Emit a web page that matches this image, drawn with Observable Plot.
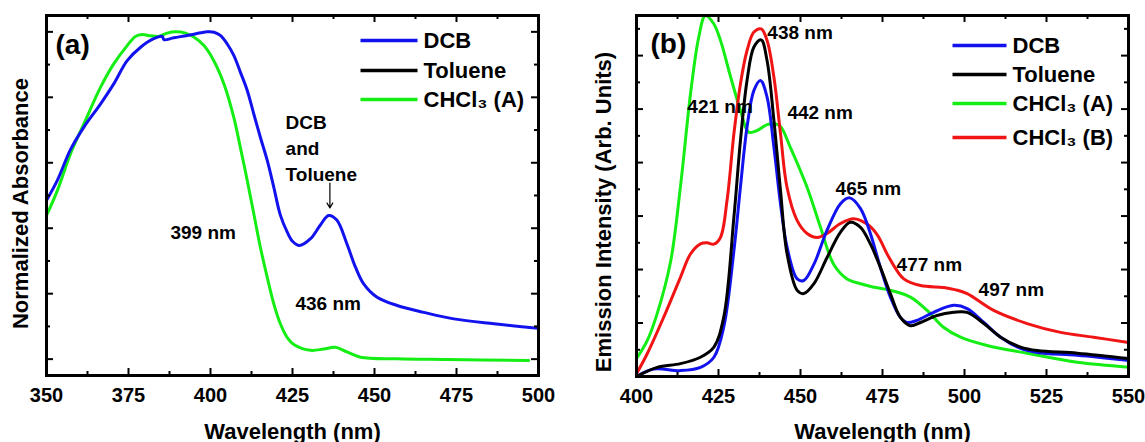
<!DOCTYPE html>
<html>
<head>
<meta charset="utf-8">
<script src="https://cdn.jsdelivr.net/npm/d3@7"></script>
<script src="https://cdn.jsdelivr.net/npm/@observablehq/plot@0.6"></script>
<style>
  html, body { margin: 0; padding: 0; background: #fff; }
  #wrap { position: relative; width: 1145px; height: 442px; overflow: hidden; }
  #wrap > svg { position: absolute; top: 0; }
</style>
</head>
<body>
<div id="wrap"></div>
<script>
const FONT = "'Liberation Sans', Arial, Helvetica, sans-serif";

// (a) Absorbance spectra: [wavelength (nm), normalized absorbance]
const absDCB = [
  [350, 0.485], [353.3, 0.546], [357.3, 0.64], [361.4, 0.709], [366.5, 0.78],
  [370.5, 0.841], [374.6, 0.912], [378.7, 0.953], [382.7, 0.979], [385.3, 0.986],
  [385.8, 0.976], [388.8, 0.982], [392.9, 0.989], [397, 0.997], [399, 1.0],
  [401.1, 0.999], [403, 0.989], [405.1, 0.963], [407.1, 0.928], [409.1, 0.877],
  [411.2, 0.821], [413.2, 0.749], [415.2, 0.678], [417.3, 0.607], [419.3, 0.525],
  [421.3, 0.44], [423.4, 0.388], [425, 0.36], [427.1, 0.347], [430.5, 0.368],
  [433.5, 0.41], [436, 0.439], [438.5, 0.425], [441.6, 0.352], [444.2, 0.281],
  [446.7, 0.23], [450.8, 0.189], [456.9, 0.164], [465, 0.143], [474.2, 0.123],
  [486.4, 0.108], [500, 0.094]
];
const absCHCl3A = [
  [350, 0.439], [353.3, 0.515], [357.3, 0.627], [361.4, 0.719], [366.5, 0.831],
  [370.5, 0.902], [374.6, 0.958], [377.1, 0.986], [379.2, 0.992], [381.7, 0.988],
  [384.2, 0.986], [386.8, 0.996], [389.3, 1.0], [392.4, 0.996], [394.9, 0.984],
  [398, 0.958], [401, 0.912], [404.1, 0.841], [407.1, 0.739], [409.1, 0.647],
  [411.2, 0.546], [413.2, 0.444], [415.2, 0.342], [417.3, 0.25], [419.3, 0.169],
  [421.3, 0.108], [423.4, 0.066], [425.4, 0.045], [430.5, 0.027], [434.5, 0.031],
  [438.1, 0.036], [441.6, 0.022], [445.7, 0.006], [456.9, 0.001], [472.2, -0.001],
  [497, -0.004]
];

// (b) Emission spectra: [wavelength (nm), intensity (arb. units)]
const emDCB = [
  [400, 0.0], [405.3, 0.028], [413.4, 0.022], [419.5, 0.034], [423.6, 0.072],
  [426.6, 0.185], [429.7, 0.471], [431.7, 0.71], [433.7, 0.933], [435.8, 1.07],
  [437.8, 1.107], [439.8, 1.045], [441.9, 0.857], [443.9, 0.646], [445.9, 0.484],
  [449, 0.365], [451, 0.359], [454.1, 0.42], [458.1, 0.547], [462.2, 0.646],
  [465, 0.668], [468.3, 0.628], [471.3, 0.535], [474.3, 0.41], [477.4, 0.297],
  [480.4, 0.222], [482.5, 0.202], [485.5, 0.21], [490.6, 0.24], [496.7, 0.266],
  [500.8, 0.254], [505.9, 0.202], [511, 0.147], [517.1, 0.105], [522.2, 0.09],
  [534.4, 0.079], [550, 0.06]
];
const emToluene = [
  [400, 0.0], [406.3, 0.034], [413.4, 0.048], [419.5, 0.072], [423.6, 0.11],
  [426.6, 0.222], [429.7, 0.596], [431.7, 0.883], [433.7, 1.107], [435.8, 1.232],
  [438, 1.259], [439.8, 1.182], [441.9, 0.957], [443.9, 0.696], [445.9, 0.459],
  [449, 0.322], [451, 0.31], [454.1, 0.347], [458.1, 0.445], [462.2, 0.54],
  [465.2, 0.577], [468.3, 0.558], [471.3, 0.496], [474.3, 0.41], [477.4, 0.31],
  [480.4, 0.222], [483.5, 0.19], [486.6, 0.202], [491.6, 0.228], [496.7, 0.24],
  [500.8, 0.24], [505.9, 0.198], [511, 0.147], [517.1, 0.11], [522.2, 0.097],
  [534.4, 0.087], [550, 0.067]
];
const emCHCl3A = [
  [400, 0.067], [403.3, 0.135], [406.3, 0.235], [410.4, 0.43], [413.4, 0.71],
  [416.5, 1.06], [419, 1.27], [421, 1.35], [423.5, 1.32], [425.6, 1.257],
  [428.7, 1.12], [431.7, 0.995], [434.2, 0.914], [436.8, 0.92], [439.8, 0.942],
  [442, 0.945], [443.9, 0.935], [446.9, 0.857], [452, 0.708], [456.1, 0.558],
  [460.1, 0.42], [464.2, 0.365], [468.3, 0.347], [472, 0.335], [477.4, 0.322],
  [483.5, 0.297], [488.6, 0.247], [493.6, 0.184], [498.8, 0.147], [506.9, 0.116],
  [519.1, 0.087], [534.4, 0.053], [550, 0.035]
];
const emCHCl3B = [
  [400, 0.01], [403.3, 0.086], [408.3, 0.222], [413.4, 0.371], [416.5, 0.459],
  [419.5, 0.496], [421.5, 0.5], [423.6, 0.495], [425.6, 0.52], [427.6, 0.658],
  [429.7, 0.908], [431.7, 1.095], [433.7, 1.219], [435.8, 1.288], [438, 1.30],
  [439.8, 1.257], [441.9, 1.119], [443.9, 0.908], [445.9, 0.707], [449, 0.583],
  [452, 0.535], [455.1, 0.52], [458.1, 0.535], [462.2, 0.572], [466.2, 0.59],
  [470.3, 0.57], [473.4, 0.53], [477, 0.445], [481.5, 0.365], [486.6, 0.34],
  [493.7, 0.333], [497, 0.325], [500.8, 0.31], [508.9, 0.247], [519.1, 0.198],
  [529.3, 0.165], [539.3, 0.147], [550, 0.127]
];

// Axis tick values
const xTicksA = [350, 375, 400, 425, 450, 475, 500];
const xTicksB = [400, 425, 450, 475, 500, 525, 550];
const yTicksA = [0, 0.1, 0.2, 0.3, 0.4, 0.5, 0.6, 0.7, 0.8, 0.9, 1.0];
const yTicksB = [0, 0.1, 0.2, 0.3, 0.4, 0.5, 0.6, 0.7, 0.8, 0.9, 1.0, 1.1, 1.2, 1.3];

// Series names
const legendA = ["DCB", "Toluene", "CHCl₃ (A)"];
const legendB = ["DCB", "Toluene", "CHCl₃ (A)", "CHCl₃ (B)"];

// Peak annotations: label text with its anchor in data coordinates
const notesA = [
  {text: "399 nm", wl: 387.8, v: 0.387},
  {text: "436 nm", wl: 425.9, v: 0.17}
];
const notesB = [
  {text: "438 nm", wl: 439.9, v: 1.286},
  {text: "421 nm", wl: 415.5, v: 1.01},
  {text: "442 nm", wl: 446.0, v: 0.984},
  {text: "465 nm", wl: 460.7, v: 0.703},
  {text: "477 nm", wl: 479.3, v: 0.419},
  {text: "497 nm", wl: 504.3, v: 0.325}
];

const COLORS = {
  "DCB": "#1212ee",
  "Toluene": "#000000",
  "CHCl₃ (A)": "#14ee14",
  "CHCl₃ (B)": "#f01414"
};

// Inward ticks on all four sides of the frame
function frameTicks(xMajor, yTicks, frameW, frameH) {
  const xMinor = d3.pairs(xMajor).map(([a, b]) => (a + b) / 2);
  const yMajor = yTicks.filter((d, i) => i % 2 === 0);
  const yMinor = yTicks.filter((d, i) => i % 2 === 1);
  const marks = [];
  for (const [vals, len] of [[xMajor, 7], [xMinor, 4]]) {
    marks.push(Plot.tickX(vals, {x: d => d, insetTop: frameH - len, strokeWidth: 2}));
    marks.push(Plot.tickX(vals, {x: d => d, insetBottom: frameH - len, strokeWidth: 2}));
  }
  for (const [vals, len] of [[yMajor, 7], [yMinor, 4]]) {
    marks.push(Plot.tickY(vals, {y: d => d, insetRight: frameW - len, strokeWidth: 2}));
    marks.push(Plot.tickY(vals, {y: d => d, insetLeft: frameW - len, strokeWidth: 2}));
  }
  return marks;
}

// Short horizontal stroke used as the legend swatch
const swatch = half => ({draw(ctx) { ctx.moveTo(-half, 0); ctx.lineTo(half, 0); }});

function legendMarks(names, {cx, half, tx, rows}) {
  const marks = [];
  names.forEach((name, i) => {
    marks.push(Plot.dot([name], {
      frameAnchor: "top-left", dx: cx, dy: rows[i],
      symbol: swatch(half), fill: "none", stroke: COLORS[name], strokeWidth: 3.5
    }));
    marks.push(Plot.text([name], {
      frameAnchor: "top-left", dx: tx, dy: rows[i], text: d => d,
      textAnchor: "start", lineAnchor: "middle", fontSize: 22, fontWeight: "bold", fill: "black"
    }));
  });
  return marks;
}

function spectrum(data, name) {
  return Plot.line(data, {
    x: d => d[0], y: d => d[1], stroke: COLORS[name], strokeWidth: 3,
    curve: "catmull-rom"
  });
}

const common = {
  height: 442,
  marginTop: 15,
  style: {fontFamily: FONT, fontWeight: "bold", color: "black", background: "white", overflow: "visible"}
};

// Panel (a): absorbance
const W_A = 580, ML_A = 46, MR_A = 42, MB_A = 67;
const plotA = Plot.plot({
  ...common,
  width: W_A,
  marginLeft: ML_A, marginRight: MR_A, marginBottom: MB_A,
  x: {domain: [350, 500], label: null},
  y: {domain: [-0.05, 1.05], axis: null},
  marks: [
    spectrum(absCHCl3A, "CHCl₃ (A)"),
    spectrum(absDCB, "DCB"),
    Plot.arrow([0], {x1: 436.4, y1: 0.538, x2: 436.4, y2: 0.462,
      stroke: "black", strokeWidth: 1.2, headLength: 7}),
    Plot.text(["DCB\nand\nToluene"], {x: 422.9, y: 0.76, text: d => d,
      textAnchor: "start", lineAnchor: "top", lineHeight: 1.38, fontSize: 19, fontWeight: "bold"}),
    Plot.text(notesA, {x: "wl", y: "v", text: "text", textAnchor: "start",
      lineAnchor: "middle", fontSize: 19, fontWeight: "bold"}),
    Plot.text(["(a)"], {frameAnchor: "top-left", dx: 9, dy: 30, text: d => d,
      textAnchor: "start", lineAnchor: "middle", fontSize: 28, fontWeight: "bold"}),
    ...legendMarks(legendA, {cx: 342.5, half: 28.5, tx: 377, rows: [25, 55, 84]}),
    ...frameTicks(xTicksA, yTicksA, W_A - ML_A - MR_A, 442 - 15 - MB_A),
    Plot.frame({stroke: "black", strokeWidth: 3}),
    Plot.axisX(xTicksA, {label: null, tickSize: 0, tickPadding: 12, fontSize: 20, fontWeight: "bold"}),
    Plot.text(["Wavelength (nm)"], {frameAnchor: "bottom", dy: 56, text: d => d,
      textAnchor: "middle", lineAnchor: "middle", fontSize: 22, fontWeight: "bold"}),
    Plot.text(["Normalized Absorbance"], {frameAnchor: "left", dx: -26, dy: 8, rotate: -90,
      text: d => d, textAnchor: "middle", lineAnchor: "middle", fontSize: 22, fontWeight: "bold"})
  ]
});

// Panel (b): emission
const W_B = 565, ML_B = 56, MR_B = 17, MB_B = 66;
const plotB = Plot.plot({
  ...common,
  width: W_B,
  marginLeft: ML_B, marginRight: MR_B, marginBottom: MB_B,
  x: {domain: [400, 550], label: null},
  y: {domain: [0, 1.35], axis: null},
  marks: [
    spectrum(emCHCl3A, "CHCl₃ (A)"),
    spectrum(emCHCl3B, "CHCl₃ (B)"),
    spectrum(emDCB, "DCB"),
    spectrum(emToluene, "Toluene"),
    Plot.text(notesB, {x: "wl", y: "v", text: "text", textAnchor: "start",
      lineAnchor: "middle", fontSize: 19, fontWeight: "bold"}),
    Plot.text(["(b)"], {frameAnchor: "top-left", dx: 14, dy: 29, text: d => d,
      textAnchor: "start", lineAnchor: "middle", fontSize: 28, fontWeight: "bold"}),
    ...legendMarks(legendB, {cx: 343, half: 27, tx: 376, rows: [30, 59, 88, 122]}),
    ...frameTicks(xTicksB, yTicksB, W_B - ML_B - MR_B, 442 - 15 - MB_B),
    Plot.frame({stroke: "black", strokeWidth: 3}),
    Plot.axisX(xTicksB, {label: null, tickSize: 0, tickPadding: 12, fontSize: 20, fontWeight: "bold"}),
    Plot.text(["Wavelength (nm)"], {frameAnchor: "bottom", dy: 55, text: d => d,
      textAnchor: "middle", lineAnchor: "middle", fontSize: 22, fontWeight: "bold"}),
    Plot.text(["Emission Intensity (Arb. Units)"], {frameAnchor: "left", dx: -33, dy: 16, rotate: -90,
      text: d => d, textAnchor: "middle", lineAnchor: "middle", fontSize: 22, fontWeight: "bold"})
  ]
});

plotA.style.left = "0px";
plotB.style.left = "580px";
const wrap = document.getElementById("wrap");
wrap.appendChild(plotA);
wrap.appendChild(plotB);
</script>
</body>
</html>
